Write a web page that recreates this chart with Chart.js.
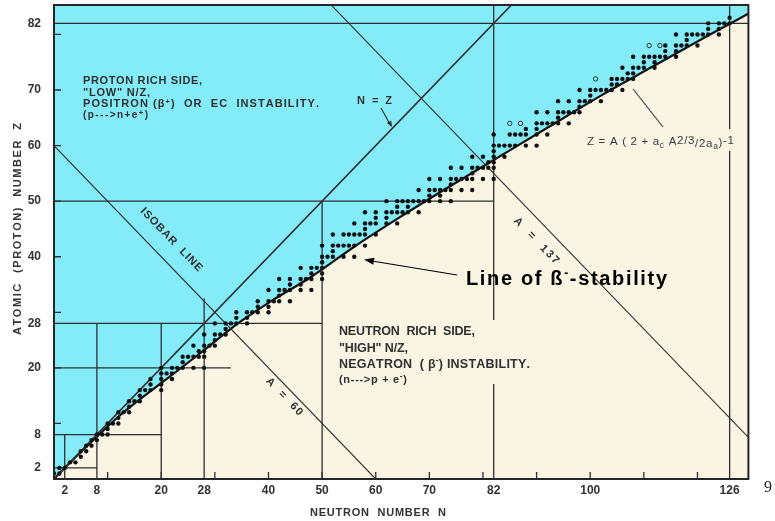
<!DOCTYPE html>
<html>
<head>
<meta charset="utf-8">
<script src="https://cdn.jsdelivr.net/npm/chart.js@4.4.1/dist/chart.umd.min.js"></script>
<style>
  html, body { margin: 0; padding: 0; background: #ffffff; }
  #wrap { width: 775px; height: 521px; position: relative; }
</style>
</head>
<body>
<div id="wrap"><canvas id="chart" width="775" height="521"></canvas></div>
<script>
// Axis ticks
const xTickLabels = [2, 8, 20, 28, 40, 50, 60, 70, 82, 100, 126];
const yTickLabels = [2, 8, 20, 28, 40, 50, 60, 70, 82];
const xMinorTicks = [10, 20, 30, 40, 50, 60, 70, 80, 90, 100, 110, 120];
const yMinorTicks = [10, 20, 30, 40, 50, 60, 70, 80];

// Line of beta stability, Z = A (2 + ac A^(2/3) / 2aa)^-1, sampled as (N, Z)
const stabilityN = [0, 4, 8, 12, 18, 24, 28, 34, 40, 48, 56, 64, 72, 82, 92, 102, 112, 122, 130];
const stabilityZ = [0, 3.9, 7.6, 11.2, 15.8, 20.2, 23.2, 27.8, 31.7, 36.4, 41.8, 46.8, 51.6, 57.4, 63.2, 69.0, 74.4, 79.8, 84.0];

// Magic-number guide segments [N1, Z1, N2, Z2]
const magicSegments = [
  [2, 0, 2, 8],    [0, 2, 8, 2],
  [8, 0, 8, 28],   [0, 8, 20, 8],
  [20, 0, 20, 28], [0, 20, 33, 20],
  [28, 0, 28, 32.5], [0, 28, 50, 28],
  [50, 0, 50, 50], [0, 50, 82, 50],
  [82, 0, 82, 86], [0, 82, 130, 82],
  [126, 0, 126, 86]
];

// Diagonals: N = Z, and isobars N + Z = A
const equalLine = [[0, 0], [86, 86]];
const isobarMasses = [60, 137];

// Stable nuclides: neutron numbers for Z = 1, 2, 3, ...
const stableNeutrons = [
  [0, 1], [1, 2], [3, 4], [5], [5, 6], [6, 7], [7, 8], [8, 9, 10], [10], [10, 11, 12],
  [12], [12, 13, 14], [14], [14, 15, 16], [16], [16, 17, 18, 20], [18, 20], [18, 20, 22], [20, 21, 22], [20, 22, 23, 24, 26, 28],
  [24], [24, 25, 26, 27, 28], [27, 28], [26, 28, 29, 30], [30], [28, 30, 31, 32], [32], [30, 32, 33, 34, 36], [34, 36], [34, 36, 37, 38, 40],
  [38, 40], [38, 40, 41, 42, 44], [42], [40, 42, 43, 44, 46, 48], [44, 46], [42, 44, 46, 47, 48, 50], [48, 50], [46, 48, 49, 50], [50], [50, 51, 52, 54, 56],
  [52], [50, 52, 53, 54, 55, 56, 58], [], [52, 54, 55, 56, 57, 58, 60], [58], [56, 58, 59, 60, 62, 64], [60, 62], [58, 60, 62, 63, 64, 65, 66, 68], [64, 66], [62, 64, 65, 66, 67, 68, 69, 70, 72, 74],
  [70, 72], [68, 70, 71, 72, 73, 74, 76, 78], [74], [70, 72, 74, 75, 76, 77, 78, 80, 82], [78], [74, 76, 78, 79, 80, 81, 82], [81, 82], [78, 80, 82, 84], [82], [82, 83, 84, 85, 86, 88, 90],
  [], [82, 85, 86, 87, 88, 90, 92], [88, 90], [90, 91, 92, 93, 94, 96], [94], [90, 92, 94, 95, 96, 97, 98], [98], [94, 96, 98, 99, 100, 102], [100], [98, 100, 101, 102, 103, 104, 106],
  [104, 105], [104, 105, 106, 107, 108], [107, 108], [106, 108, 109, 110, 112], [110, 112], [108, 110, 111, 112, 113, 114, 116], [114, 116], [114, 116, 117, 118, 120], [118], [116, 118, 119, 120, 121, 122, 124],
  [122, 124], [122, 124, 125, 126], [126]
];

// Long-lived (open circle) nuclides
const openN = [85, 87, 101, 111, 113];
const openZ = [64, 64, 72, 78, 78];

const CYAN = '#84ecf8';
const BEIGE = '#faf5e3';
const INK = '#2f2f2f';
const SANS = '"Liberation Sans", Arial, Helvetica, sans-serif';
const NARROW = '"Liberation Sans Narrow", "Liberation Sans", Arial, sans-serif';

const stablePoints = [];
stableNeutrons.forEach((list, i) => list.forEach(n => stablePoints.push({ x: n, y: i + 1 })));
const openPoints = openN.map((n, i) => ({ x: n, y: openZ[i] }));
const curvePoints = stabilityN.map((n, i) => ({ x: n, y: stabilityZ[i] }));

const guideStyle = { showLine: true, borderColor: INK, borderWidth: 1.3, pointRadius: 0, fill: false, order: 5 };
const guideSets = magicSegments.map(s => Object.assign({
  data: [{ x: s[0], y: s[1] }, { x: s[2], y: s[3] }]
}, guideStyle));
guideSets.push(Object.assign({ data: equalLine.map(p => ({ x: p[0], y: p[1] })) }, guideStyle, { borderWidth: 1.6 }));
isobarMasses.forEach(a => guideSets.push(Object.assign({
  data: [{ x: 0, y: a }, { x: a, y: 0 }]
}, guideStyle, { borderWidth: 1.1 })));

// glyph-by-glyph text with controllable tracking
function glyphs(ctx, segs) {
  const out = [];
  segs.forEach(s => {
    ctx.font = s.font;
    for (const ch of s.t) out.push({ ch, font: s.font, dy: s.dy || 0, w: ctx.measureText(ch).width });
  });
  return out;
}
function drawSpaced(ctx, segs, x, y, targetW, align) {
  const g = glyphs(ctx, segs);
  const nat = g.reduce((a, b) => a + b.w, 0);
  const extra = targetW && g.length > 1 ? (targetW - nat) / (g.length - 1) : 0;
  const total = targetW || nat;
  let cx = align === 'center' ? x - total / 2 : (align === 'right' ? x - total : x);
  ctx.textAlign = 'left';
  g.forEach(q => { ctx.font = q.font; ctx.fillText(q.ch, cx, y + q.dy); cx += q.w + extra; });
}
function arrowHead(ctx, x1, y1, x2, y2, len, half) {
  const a = Math.atan2(y2 - y1, x2 - x1);
  ctx.beginPath();
  ctx.moveTo(x2, y2);
  ctx.lineTo(x2 - len * Math.cos(a) + half * Math.sin(a), y2 - len * Math.sin(a) - half * Math.cos(a));
  ctx.lineTo(x2 - len * Math.cos(a) - half * Math.sin(a), y2 - len * Math.sin(a) + half * Math.cos(a));
  ctx.closePath();
  ctx.fill();
}

const decor = {
  id: 'decor',
  beforeDraw(chart) {
    const { ctx, chartArea: a } = chart;
    ctx.save();
    ctx.fillStyle = '#ffffff';
    ctx.fillRect(0, 0, chart.width, chart.height);
    ctx.fillStyle = BEIGE;
    ctx.fillRect(a.left, a.top, a.right - a.left, a.bottom - a.top);
    ctx.restore();
  },
  afterDatasetsDraw(chart) {
    const { ctx, chartArea: a, scales: { x, y } } = chart;
    const px = v => x.getPixelForValue(v);
    const py = v => y.getPixelForValue(v);
    ctx.save();

    // inward tick marks
    ctx.strokeStyle = INK;
    ctx.lineWidth = 1.3;
    ctx.beginPath();
    xMinorTicks.forEach(v => { ctx.moveTo(px(v), a.bottom); ctx.lineTo(px(v), a.bottom - 7); });
    yMinorTicks.forEach(v => { ctx.moveTo(a.left, py(v)); ctx.lineTo(a.left + 7, py(v)); });
    ctx.stroke();

    // frame
    ctx.lineWidth = 2;
    ctx.strokeStyle = '#262626';
    ctx.strokeRect(a.left, a.top, a.right - a.left, a.bottom - a.top);

    ctx.fillStyle = '#303030';
    ctx.textBaseline = 'alphabetic';
    const B11 = 'bold 11px ' + SANS;
    const B7 = 'bold 7.5px ' + SANS;

    // proton rich side
    drawSpaced(ctx, [{ t: 'PROTON RICH SIDE,', font: B11 }], 83, 84, 119);
    drawSpaced(ctx, [{ t: '"LOW" N/Z,', font: B11 }], 83, 95.5, 67);
    drawSpaced(ctx, [{ t: 'POSITRON (\u03B2', font: B11 }, { t: '+', font: B7, dy: -3.5 }, { t: ')  OR  EC  INSTABILITY.', font: B11 }], 83, 107, 236);
    drawSpaced(ctx, [{ t: '(p--->n+e', font: 'bold 10px ' + SANS }, { t: '+', font: B7, dy: -3.5 }, { t: ')', font: 'bold 10px ' + SANS }], 83, 118, 65);

    // neutron rich side (background breaks the N = 82 guide)
    ctx.fillStyle = BEIGE;
    ctx.fillRect(335, 320, 200, 64);
    ctx.fillStyle = '#303030';
    const B12 = 'bold 12.5px ' + SANS;
    drawSpaced(ctx, [{ t: 'NEUTRON  RICH  SIDE,', font: B12 }], 339, 335, 136);
    drawSpaced(ctx, [{ t: '"HIGH" N/Z,', font: B12 }], 339, 351.5, 69);
    drawSpaced(ctx, [{ t: 'NEGATRON  ( \u03B2', font: B12 }, { t: '-', font: 'bold 8.5px ' + SANS, dy: -4.5 }, { t: ') INSTABILITY.', font: B12 }], 339, 367.5, 191);
    drawSpaced(ctx, [{ t: '(n--->p + e', font: 'bold 11px ' + SANS }, { t: '-', font: 'bold 8.5px ' + SANS, dy: -3.5 }, { t: ')', font: 'bold 11px ' + SANS }], 339, 382.5, 68);

    // stability formula (background breaks the N = 126 guide)
    ctx.fillStyle = BEIGE;
    ctx.fillRect(584, 129, 152, 22);
    ctx.fillStyle = '#3a3a3a';
    const R11 = '11.5px ' + SANS, R8 = '8.5px ' + SANS;
    drawSpaced(ctx, [
      { t: 'Z = A ( 2 + a', font: R11 }, { t: 'c', font: R8, dy: 3 },
      { t: ' A', font: R11 }, { t: '2/3', font: R11, dy: -1 },
      { t: '/2a', font: R11, dy: 2 }, { t: 'a', font: R8, dy: 4 },
      { t: ')', font: R11, dy: 1 }, { t: '-1', font: R11, dy: -1 }
    ], 587, 145, 147);
    ctx.strokeStyle = '#3a3a3a';
    ctx.lineWidth = 1.1;
    ctx.beginPath(); ctx.moveTo(663, 127); ctx.lineTo(633, 89); ctx.stroke();

    // N = Z label and pointer
    ctx.fillStyle = '#303030';
    drawSpaced(ctx, [{ t: 'N = Z', font: 'bold 11px ' + SANS }], 357, 104, 35);
    ctx.strokeStyle = '#303030';
    ctx.lineWidth = 1.2;
    ctx.beginPath(); ctx.moveTo(381, 108); ctx.lineTo(391, 126); ctx.stroke();
    arrowHead(ctx, 381, 108, 392, 127, 6, 2.5);

    // rotated isobar labels
    const ang = Math.atan2(py(0) - py(60), px(60) - px(0));
    const rot = (txt, cx, cy, w, font) => {
      ctx.save(); ctx.translate(cx, cy); ctx.rotate(ang);
      drawSpaced(ctx, [{ t: txt, font }], 0, 4, w, 'center');
      ctx.restore();
    };
    ctx.fillStyle = '#303030';
    rot('ISOBAR  LINE', 172, 239, 84, 'bold 11px ' + SANS);
    rot('A  =  60', 285, 396, 48, 'bold 11px ' + SANS);
    rot('A  =  137', 537, 240, 60, 'bold 11px ' + SANS);

    // line of beta-minus stability
    ctx.fillStyle = '#000000';
    const BL = 'bold 20px ' + SANS;
    drawSpaced(ctx, [{ t: 'Line of \u00DF', font: BL }, { t: '-', font: 'bold 12px ' + SANS, dy: -8 }, { t: '-stability', font: BL }], 466, 285, 201);
    ctx.strokeStyle = '#000000';
    ctx.fillStyle = '#000000';
    ctx.lineWidth = 1.2;
    ctx.beginPath(); ctx.moveTo(457, 275); ctx.lineTo(372, 261); ctx.stroke();
    arrowHead(ctx, 457, 275, 364, 259.6, 10, 3.5);

    // axis titles
    ctx.fillStyle = '#333333';
    drawSpaced(ctx, [{ t: 'NEUTRON  NUMBER  N', font: 'bold 11px ' + SANS }], 378, 516, 136, 'center');
    ctx.save();
    ctx.translate(21, 229);
    ctx.rotate(-Math.PI / 2);
    drawSpaced(ctx, [{ t: 'ATOMIC  (PROTON)  NUMBER  Z', font: 'bold 11px ' + SANS }], 0, 0, 212, 'center');
    ctx.restore();

    // page number
    ctx.fillStyle = '#222222';
    ctx.font = '16px "Liberation Serif", "Times New Roman", serif';
    ctx.textAlign = 'left';
    ctx.fillText('9', 764, 492);

    ctx.restore();
  }
};

new Chart(document.getElementById('chart'), {
  type: 'scatter',
  data: {
    datasets: [
      { data: stablePoints, pointRadius: 2.2, pointBackgroundColor: '#111111', pointBorderWidth: 0, order: 0 },
      { data: openPoints, pointRadius: 2.2, pointBackgroundColor: CYAN, pointBorderColor: '#333333', pointBorderWidth: 1, order: 1 },
      ...guideSets,
      {
        data: curvePoints, showLine: true, borderColor: '#141414', borderWidth: 2.2,
        pointRadius: 0, cubicInterpolationMode: 'monotone',
        fill: 'end', backgroundColor: CYAN, order: 10
      }
    ]
  },
  options: {
    responsive: false,
    animation: false,
    devicePixelRatio: 1,
    layout: { padding: { top: 5, right: 26.6, left: 0, bottom: 0 } },
    plugins: { legend: { display: false }, tooltip: { enabled: false } },
    scales: {
      x: {
        type: 'linear', min: 0, max: 129.5,
        grid: { display: false, drawTicks: false },
        border: { display: false },
        afterBuildTicks: s => { s.ticks = xTickLabels.map(v => ({ value: v })); },
        afterFit: s => { s.height = 42; s.paddingLeft = 0; s.paddingRight = 0; },
        ticks: { autoSkip: false, maxRotation: 0, padding: 4, color: '#333333', font: { family: NARROW, size: 12, weight: 'bold' } }
      },
      y: {
        type: 'linear', min: 0, max: 85.3,
        grid: { display: false, drawTicks: false },
        border: { display: false },
        afterBuildTicks: s => { s.ticks = yTickLabels.map(v => ({ value: v })); },
        afterFit: s => { s.width = 54; s.paddingTop = 0; s.paddingBottom = 0; },
        ticks: { autoSkip: false, padding: 13, color: '#333333', font: { family: NARROW, size: 12, weight: 'bold' } }
      }
    }
  },
  plugins: [decor]
});
</script>
</body>
</html>
